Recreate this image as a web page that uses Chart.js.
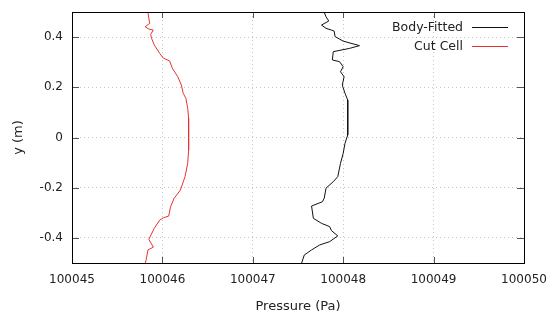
<!DOCTYPE html>
<html>
<head>
<meta charset="utf-8">
<script src="https://cdn.jsdelivr.net/npm/chart.js@4"></script>
<style>
  html, body { margin: 0; padding: 0; background: #fff; overflow: hidden; }
  #wrap { width: 560px; height: 320px; }
</style>
</head>
<body>
<div id="wrap"><canvas id="chart" width="560" height="320"></canvas></div>
<script>
// pressure (Pa) vs y (m)
const bodyFittedP = [100047.79, 100047.81, 100047.84, 100047.76, 100047.81, 100047.87, 100047.90, 100047.91, 100048.00, 100048.18, 100048.07, 100047.89, 100047.88, 100047.96, 100048.00, 100047.97, 100048.01, 100047.99, 100048.02, 100048.05, 100048.05, 100048.05, 100048.02, 100048.00, 100047.97, 100047.94, 100047.89, 100047.81, 100047.79, 100047.77, 100047.65, 100047.67, 100047.76, 100047.85, 100047.87, 100047.94, 100047.85, 100047.74, 100047.65, 100047.57, 100047.54];
const bodyFittedY = [0.499, 0.481, 0.464, 0.448, 0.435, 0.428, 0.424, 0.402, 0.384, 0.366, 0.355, 0.342, 0.309, 0.302, 0.282, 0.262, 0.242, 0.209, 0.176, 0.149, 0.090, 0.010, -0.023, -0.063, -0.103, -0.156, -0.176, -0.202, -0.242, -0.256, -0.273, -0.322, -0.342, -0.355, -0.371, -0.392, -0.415, -0.428, -0.448, -0.468, -0.500];

const cutCellP = [100045.84, 100045.85, 100045.86, 100045.81, 100045.85, 100045.90, 100045.87, 100045.88, 100045.91, 100045.97, 100046.01, 100046.08, 100046.11, 100046.17, 100046.21, 100046.23, 100046.26, 100046.28, 100046.29, 100046.29, 100046.29, 100046.28, 100046.25, 100046.20, 100046.13, 100046.09, 100046.07, 100046.01, 100045.97, 100045.91, 100045.85, 100045.90, 100045.84, 100045.82, 100045.81];
const cutCellY = [0.499, 0.475, 0.455, 0.441, 0.432, 0.428, 0.411, 0.395, 0.369, 0.335, 0.316, 0.305, 0.276, 0.242, 0.209, 0.176, 0.156, 0.116, 0.076, 0.010, -0.050, -0.103, -0.156, -0.209, -0.242, -0.276, -0.313, -0.320, -0.329, -0.362, -0.406, -0.437, -0.448, -0.488, -0.500];

const xTicks = [100045, 100046, 100047, 100048, 100049, 100050];
const yTicks = [-0.4, -0.2, 0, 0.2, 0.4];
const xRange = [100045, 100050];
const yRange = [-0.5, 0.5];

const toPoints = (xs, ys) => xs.map((v, i) => ({ x: v, y: ys[i] }));

// gnuplot-like frame, inward ticks on all sides, and the key in the top-right corner
const framePlugin = {
    id: 'frame',
    afterDraw(chart) {
        const { ctx, chartArea: a, scales: { x, y } } = chart;
        ctx.save();
        ctx.lineWidth = 1;
        ctx.strokeStyle = '#555';
        ctx.beginPath();
        xTicks.forEach(v => {
            const px = Math.round(x.getPixelForValue(v)) + 0.5;
            ctx.moveTo(px, a.bottom); ctx.lineTo(px, a.bottom - 6);
            ctx.moveTo(px, a.top); ctx.lineTo(px, a.top + 6);
        });
        yTicks.forEach(v => {
            const py = Math.round(y.getPixelForValue(v)) + 0.5;
            ctx.moveTo(a.left, py); ctx.lineTo(a.left + 7, py);
            ctx.moveTo(a.right, py); ctx.lineTo(a.right - 7, py);
        });
        ctx.stroke();

        ctx.strokeStyle = '#000';
        ctx.strokeRect(Math.round(a.left) + 0.5, Math.round(a.top) + 0.5,
            Math.round(a.right - a.left), Math.round(a.bottom - a.top));

        ctx.font = '12.5px "DejaVu Sans"';
        ctx.textAlign = 'right';
        ctx.textBaseline = 'middle';
        chart.data.datasets.forEach((ds, i) => {
            const ly = Math.round(a.top + 15 + i * 18.5) + 0.5;
            ctx.fillStyle = '#222';
            ctx.fillText(ds.label, a.right - 61, ly);
            ctx.strokeStyle = ds.borderColor;
            ctx.beginPath();
            ctx.moveTo(a.right - 52, ly);
            ctx.lineTo(a.right - 16, ly);
            ctx.stroke();
        });
        ctx.restore();
    }
};

const tickFont = { family: "'DejaVu Sans'", size: 12 };
const titleFont = { family: "'DejaVu Sans'", size: 13 };

new Chart(document.getElementById('chart'), {
    type: 'scatter',
    data: {
        datasets: [
            {
                label: 'Body-Fitted',
                data: toPoints(bodyFittedP, bodyFittedY),
                showLine: true,
                borderColor: '#111',
                borderWidth: 1,
                pointRadius: 0,
                tension: 0
            },
            {
                label: 'Cut Cell',
                data: toPoints(cutCellP, cutCellY),
                showLine: true,
                borderColor: 'rgb(232,50,50)',
                borderWidth: 1,
                pointRadius: 0,
                tension: 0
            }
        ]
    },
    options: {
        responsive: false,
        animation: false,
        layout: { padding: { left: 0, top: 12, right: 36, bottom: 0 } },
        plugins: {
            legend: { display: false },
            tooltip: { enabled: false }
        },
        scales: {
            x: {
                type: 'linear',
                min: xRange[0],
                max: xRange[1],
                afterBuildTicks: s => { s.ticks = xTicks.map(v => ({ value: v })); },
                afterFit: s => { s.height = 57; s.paddingLeft = 0; s.paddingRight = 0; },
                ticks: {
                    color: '#222',
                    font: tickFont,
                    padding: 10,
                    maxRotation: 0,
                    callback: v => String(v)
                },
                grid: { color: '#c4c4c4', lineWidth: 1, drawTicks: false },
                border: { display: false, dash: [1, 3] },
                title: {
                    display: true,
                    text: 'Pressure (Pa)',
                    color: '#222',
                    font: titleFont,
                    padding: { top: 0, bottom: 6 }
                }
            },
            y: {
                type: 'linear',
                min: yRange[0],
                max: yRange[1],
                afterBuildTicks: s => { s.ticks = yTicks.map(v => ({ value: v })); },
                afterFit: s => { s.width = 72; s.paddingTop = 0; s.paddingBottom = 0; },
                ticks: {
                    color: '#222',
                    font: tickFont,
                    padding: 9,
                    callback: v => (v === 0 ? '0' : v.toFixed(1))
                },
                grid: { color: '#c4c4c4', lineWidth: 1, drawTicks: false },
                border: { display: false, dash: [1, 3] },
                title: {
                    display: true,
                    text: 'y (m)',
                    color: '#222',
                    font: titleFont,
                    padding: { top: 11, bottom: 0 }
                }
            }
        }
    },
    plugins: [framePlugin]
});
</script>
</body>
</html>
